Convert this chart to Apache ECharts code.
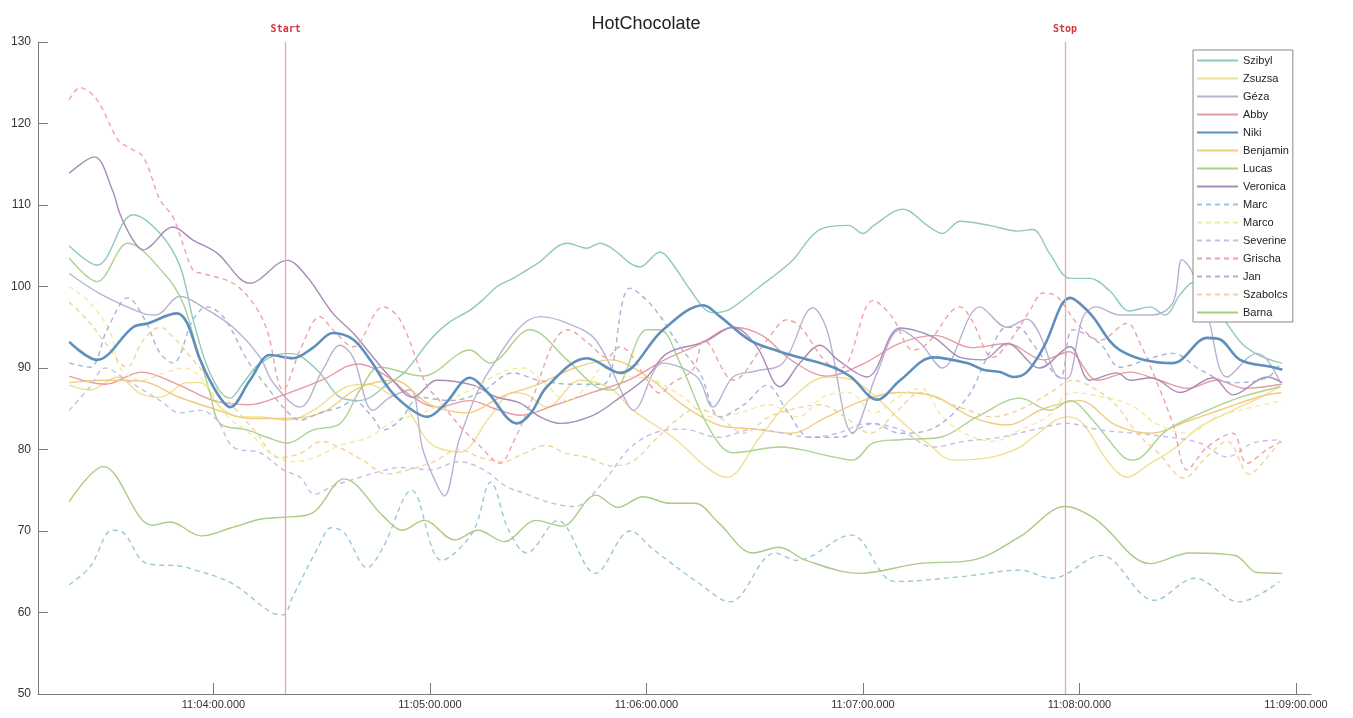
<!DOCTYPE html>
<html><head><meta charset="utf-8">
<script src="https://cdn.jsdelivr.net/npm/echarts@6/dist/echarts.min.js"></script>
<style>html,body{margin:0;padding:0;background:#fff}#c{width:1353px;height:718px}</style>
</head><body><div id="c"></div>
<script>
// time values: seconds after 11:03:00
const baseClock = [11, 3, 0];
const tickSeconds = [60, 120, 180, 240, 300, 360];
const tickLabels = ['11:04:00.000','11:05:00.000','11:06:00.000','11:07:00.000','11:08:00.000','11:09:00.000'];
const yTicks = [50, 60, 70, 80, 90, 100, 110, 120, 130];
const markerNames = ['Start', 'Stop'];
const markerTimes = [80, 296];

const seriesNames = ['Szibyl','Zsuzsa','Géza','Abby','Niki','Benjamin','Lucas','Veronica','Marc','Marco','Severine','Grischa','Jan','Szabolcs','Barna'];

const szibylT = [20,27.7,37.7,45.2,50.7,54.3,58,62,64.6,68,72.9,80.4,84,89.5,95.1,100.6,108.9,113,120,125,131.1,135,138.6,143,149.7,158,163.5,167.1,170,178.2,183.7,186,192.1,196,198.4,203,211.4,220,228.1,236,240,243,251.1,257.8,262,266.9,275,283,287,291.8,297.4,302.9,308.3,313.9,319.5,323.7,327.9,331.5,335,340,345,350,356.2];
const szibylV = [105,102.6,108.8,106.5,102.5,96,90.5,87,86.3,88,90.6,91.8,91.5,89.4,86.4,86,88.2,89.5,93.4,95.5,97.1,98.5,100,101,102.8,105.3,104.7,105.3,104.8,102.4,104.2,103.5,99.6,97.3,96.8,97.2,100,103,107,107.5,106.5,107.5,109.5,107.5,106.5,108,107.5,106.8,107,104,101,101,99.5,97,97.5,96.5,99,100.5,99,96,93,91.5,90.6];

const zsuzsaT = [20,25.8,33.5,39.6,45.2,52.7,56.3,61.8,67.3,72.9,80.4,87.6,97,103,108,113,120,128.3,136.6,143,146.9,152.4,161.6,170,176.3,187.3,197.6,202.3,211.4,220.6,230,237.2,244.7,250.3,257.8,265,276,283.5,287.1,296.5,300.9,307.6,313.2,319.6,325.9,333.4,342.5,350.1,355.7];
const zsuzsaV = [87.9,87.3,88.9,86.9,86.4,88.2,88.2,85.2,84,84,83.6,84.8,87.7,88,87,85.5,80.8,79.7,84,87,86.7,85.2,88.5,87.5,84.8,81.5,77.5,76.6,81.5,86.4,88.9,88.5,86,83.6,80.8,78.7,79.1,80.3,81.5,84,83.2,78.7,76.6,78.3,80,82.8,84.8,86.4,87.7];

const gezaT = [20,29,40.5,44,50.7,57,65.4,72.9,76.5,84,90.3,95.1,98.7,104.2,108.9,114.5,118,122.2,124,128.3,136.6,150.5,158,166,174.6,176.3,184.6,194,198.4,204,210,217.8,226.1,230,237.2,243.9,250.3,256,262,272.4,279.9,285.4,289.1,293.7,296.5,300.9,304.6,311.2,320.4,325.9,328.4,331,335.4,340.9,349.2,352,355.7];
const gezaV = [101.6,99,96.7,96.5,98.8,97.5,95,91.3,88.2,85.2,89.8,92.8,91.3,84.8,86.4,87.3,80,75.4,74.3,81.5,89.8,96.3,95.5,93.4,85.7,84.8,90.6,88.9,85.2,88.9,89.6,90.6,97.4,94.7,82,89.4,94.7,93,90,97.5,95,96,94,89,88.7,96.2,97.5,96.5,96.5,98,103.3,102,96.7,88.9,91.8,91,88.2];

const abbyT = [20,30,40,50,60,70,80,90,100,108,115,122,131,138,145,155,165,175,185,195,204,212,220,230,240,250,260,270,280,290,297,305,314,322,330,338,346,356];
const abbyV = [89,88,89.5,88,86,85.5,86.8,88.5,90.5,89,86.5,85.2,86,85,84.2,85.5,87,88.5,91,93,95,94,91,89,90.5,93,94,92.5,93,91,92,88.5,89.5,88.5,87.5,88.5,87.5,88];

const nikiT = [20,27.7,37.7,42,49.9,52.7,56.3,61,64.6,70.1,75.7,82,87.6,93.1,98.7,103.4,108.9,114.5,119.2,124,131.1,136,144.1,148,152.4,163.5,172.7,184.6,195.7,200.4,208.7,217,222.5,231.7,236.7,243.9,250.3,259.5,268.9,273.3,278,281.6,285.4,290,297.4,302.9,311.2,325.9,335.4,339,344.5,353.7,356.2];
const nikiV = [93.2,91,95,95.5,96.7,95.5,91,86.9,85.2,88.5,91.6,91.2,92.5,94.3,93.5,91,87.3,85,84,85.5,88.8,87,83.2,84.5,87.7,91.2,89.4,94.7,97.7,96.3,93.4,92,91.3,90.1,88.9,86.1,88.5,91.3,90.6,89.8,89.5,88.9,89.5,92.5,98.6,96.7,92.2,90.6,93.7,93.5,91,90.1,89.8];

const benjaminT = [20,30,40,50,60,70,80,90,100,110,120,130,140,150,160,170,180,190,200,210,220,230,240,250,260,270,280,290,300,310,320,330,340,350,356];
const benjaminV = [88.2,88.5,88.4,86.5,85,83.8,83.8,84.5,87.5,88.5,85.5,84.5,86.5,88,90,91,89,85.5,83,82.5,82,84,86,87,86.5,84,83,85,86,83,82,83.5,85,86.5,87];

const lucasT = [20,27.7,36.3,46.5,51.5,55,59,61.8,69.3,74.8,80.4,87.6,95.1,100.6,106.1,118,131.1,136.6,147.7,158,166,170.7,180.1,183.7,189.3,197.6,204,217,231.7,237.2,242.8,250.3,261.4,271.6,283.5,291.8,297.4,302.9,312.1,314.9,324.3,335.4,344.5,355.7];
const lucasV = [103.5,100.6,105.3,101.5,98,93,87,83.2,82.4,81.5,80.8,82.4,83.2,87.3,90.1,89,92.2,90.6,94.7,91,87.7,87.3,94.7,94.7,90.6,82.4,79.6,80.3,79.1,78.7,80.8,81.2,81.5,84,86.3,84.8,86,84,79.1,78.7,82.4,84.8,86.4,87.7];

const veronicaT = [20,27,32,34,37.7,40.5,48.8,54.3,61,70.1,80.4,85.9,93.1,98.7,103,108.9,115.3,121.9,131.9,138,145,150.5,156,165.2,172.7,180.1,185.7,196,204,210.6,217,222.5,228.1,233,241.1,250.3,259.5,266.9,273.3,279.9,289,297.4,302.9,310.4,314,320,327.9,337,342.5,352,356.2];
const veronicaV = [113.9,115.9,111.8,109,105.7,104.5,107.3,105.7,104.1,100.4,103.2,101.2,96.7,94.3,92,88.9,86.4,88.5,87.9,86.5,85.7,84,83.2,84.2,86.4,88.9,91.8,93.2,95,92.6,87.7,90.6,92.8,91,88.9,94.9,93.8,91.3,91,93,90,92.6,88.5,89.4,88.5,88.8,87,88.8,86.7,88.9,88.2];

const marcT = [20,25.8,32,35,41.6,50.5,55,65,76,79.3,82,89,92.6,96.2,102.6,107,114.9,123.2,131.8,136.8,141.8,146.8,155.4,165.8,175.5,182,194.8,203.1,215.6,221.7,236.7,248.9,267.5,283.5,292.4,306,320.7,332,344.2,355.4];
const marcV = [63.4,65.6,70.1,69.8,66,65.7,65.2,63.6,60,59.7,62,68,70.4,69.8,65.5,68,75,66.4,69.8,76,70.1,67.3,71.3,64.8,70,67.7,63.5,61.3,67.3,66.4,69.5,63.8,64.4,65.2,64.2,67,61.5,64.2,61.3,63.8];

const marcoT = [20,25.8,31.5,34,40,47,52,58,64,70,76,82,88,95,103,110,118,125,132,140,146,152,158,163,168,175,182,190,198,206,214,222,229,236,243,250,256,262,268,276,284,291,298,306,314,322,330,338,346,356.2];
const marcoV = [100,98,94.3,90.1,88.5,89.5,90,88,84,82,79.5,78.5,79,80.5,81.5,83.5,84.5,86,87.5,89.5,90,88,86,87.5,90,89,88.5,86.5,84,84.5,85.5,84,86.5,87,84.5,86.5,87.5,84,82,81,82.5,84,87,86.5,85.5,83,82,84,85,86];

const severineT = [20,25.8,30,36,45.2,50.7,56.3,61,65.4,72.9,79.3,84,88,93,100,106,112,120,128,135,141,147,153,160,168,175,182,190,200,210,218,225.3,233,241.1,250,259.5,268,278,288,296.5,305.7,315,325,333.4,340.9,348.1,355.7];
const severineV = [84.8,87.7,90,88.5,86,84.5,84.8,83.6,80.3,79.6,77.5,76.6,74.5,75.5,76.5,77.3,77.8,77.5,78.5,77.5,75.5,74.5,73.5,73,76,80,82,82.5,81.5,82.5,82,81.5,82,83.2,82.5,80.3,81,81.5,82.5,83.2,82.4,82,81.5,80.8,79.1,80.8,81.2];

const grischaT = [20,23,27.7,33.5,36.3,40.5,45.2,48.8,54.3,57,65.4,70.9,74.8,79.3,84,89.5,93.1,98.7,107,111.7,119.2,121.9,128,133.9,139.4,143,148.5,154.1,158,164,169,172.7,176.3,180.1,183.7,187.3,192.9,196,204,213.4,218.9,222.5,230,234,242.8,248,253.9,257.8,266.9,270,276,281,286.3,289.9,293.7,299.3,305.7,313.2,316.8,321.5,326,329.8,335.4,342.5,346.4,352,356.2];
const grischaV = [122.9,124.4,122.9,118,117.1,115.9,110.6,108.5,102,101.6,100.4,98,94.7,87.3,92.2,96.3,94.7,92.6,97.5,95.9,87.7,86.4,83,80.4,78.3,80.8,86.4,93,94.7,93,91.3,92.6,91.3,88.5,86.9,88.2,89.8,93.4,88.5,93.4,95.9,95.1,90.6,90,98.3,96.3,92.2,93,97.5,96,91.3,93.5,97.1,99.2,98.8,95.5,93.4,95.5,93,88.2,83,77.5,80.3,82,78.3,80,81];

const janT = [20,25.8,30.5,36.3,41,45.2,48.8,54.3,58.2,61.8,64.6,69.3,74.8,79.3,84,89.5,95.1,98.7,104,107,111.7,117.2,125.6,134,143,150,160,168,175.4,181.8,189.3,194.8,200.4,207,213.4,218.9,225.3,233.6,242.8,250.3,259,268.9,274.4,279.9,283,287,294.6,298.2,305.7,311.2,320.4,325.9,333.4,342.5,352,355.7];
const janV = [90.6,90.1,94.7,98.6,95.9,91.8,90.6,95.9,97.5,96.7,95,91,87.7,85.2,83.6,84.5,85.2,86,84,82.4,83.6,86.4,86,87,89.4,88.5,88,88,99.8,97.5,92.6,89.4,84,85.5,87.9,84.8,81.5,81.5,83.2,82,82.5,86.4,91.3,95,95,93,88.9,94.7,93,90.1,91.3,91.8,89.8,88.2,88.8,90.6];

const szabolcsT = [20,25,30,36,40.5,45.2,48.8,54.3,60,66,72,78,84,90,96,102,108,114,121,128,134,140,146,152,158,164,170,176,182,188,194,200,207,214,221,228,235,242,249,256,262,268,276,284,292,298,304,310,316,322,329,335,341,347,352,356.2];
const szabolcsV = [98.1,95.9,93.1,90.1,93.4,95,93.8,91,88,85,82,79,79.5,81,80,78.5,77,77.5,78.5,80,79,78.5,79.5,80.5,79.5,79,78,78.5,81,83.5,85,84,82,84,85,85.5,84,82,84.5,87,86,85,84,85,87,88.5,87.5,85.5,82,79.5,76.5,79,81,77,79,81.5];

const barnaT = [20,29.5,43,48,56.6,65,73.5,80,87.4,96.2,107.3,112.3,118.4,126.9,133.3,140.5,149.4,156.6,166,172.1,179,186.5,193.4,200,209.5,216.7,224.2,239.2,255.3,270,283.5,296,304.6,319.6,330.6,343.1,349.2,356.2];
const barnaV = [73.6,77.9,70.7,71.1,69.4,70.4,71.5,71.7,72.2,76.4,71.7,70.1,71.3,68.9,70.1,68.7,71.3,70.6,74.4,72.9,74.2,73.4,73.4,71,67.3,68,66.4,64.8,66,66.4,69.3,73,71.4,66,67.3,67,64.9,64.8];

const seriesTimes = [szibylT,zsuzsaT,gezaT,abbyT,nikiT,benjaminT,lucasT,veronicaT,marcT,marcoT,severineT,grischaT,janT,szabolcsT,barnaT];
const seriesValues = [szibylV,zsuzsaV,gezaV,abbyV,nikiV,benjaminV,lucasV,veronicaV,marcV,marcoV,severineV,grischaV,janV,szabolcsV,barnaV];

// styles
const styles = [
  {c:'#8fc9bc', d:false, w:1.4},
  {c:'#efe08e', d:false, w:1.4},
  {c:'#b7b2d4', d:false, w:1.4},
  {c:'#e79aa3', d:false, w:1.4},
  {c:'#5e8fbd', d:false, w:2.6},
  {c:'#f1cb7f', d:false, w:1.4},
  {c:'#acd28e', d:false, w:1.4},
  {c:'#a98bb9', d:false, w:1.4},
  {c:'#9cc6d9', d:true, w:1.4},
  {c:'#f2eb9e', d:true, w:1.4},
  {c:'#c5bfe6', d:true, w:1.4},
  {c:'#f0a0a6', d:true, w:1.4},
  {c:'#a3b5d5', d:true, w:1.4},
  {c:'#f3d398', d:true, w:1.4},
  {c:'#a9cb84', d:false, w:1.4}
];

function pad(n){return (n<10?'0':'')+n;}
function clockLabel(sec){
  const total = baseClock[0]*3600 + baseClock[1]*60 + baseClock[2] + sec;
  const h = Math.floor(total/3600), m = Math.floor((total%3600)/60), s = Math.round(total%60);
  return pad(h)+':'+pad(m)+':'+pad(s)+'.000';
}

const series = seriesNames.map((name, i) => {
  const st = styles[i];
  const s = {
    name: name,
    type: 'line',
    data: seriesTimes[i].map((t, k) => [t, seriesValues[i][k]]),
    showSymbol: false,
    symbol: 'none',
    smooth: 0.35,
    animation: false,
    lineStyle: {color: st.c, width: st.w, type: st.d ? [5, 4] : 'solid'},
    itemStyle: {color: st.c},
    z: name === 'Niki' ? 3 : 2
  };
  if (i === 0) {
    s.markLine = {
      silent: true,
      symbol: ['none', 'none'],
      animation: false,
      lineStyle: {color: '#f3a2aa', width: 1.3, type: 'solid'},
      label: {
        show: true, position: 'end', distance: 8,
        color: '#d6343a', fontFamily: 'DejaVu Sans Mono', fontWeight: 'bold', fontSize: 10,
        formatter: p => p.name
      },
      data: markerNames.map((n, k) => ({name: n, xAxis: markerTimes[k]}))
    };
  }
  return s;
});

const chart = echarts.init(document.getElementById('c'), null, {renderer: 'canvas'});
chart.setOption({
  backgroundColor: '#fff',
  animation: false,
  textStyle: {fontFamily: 'Liberation Sans, Arial, sans-serif'},
  title: {
    text: 'HotChocolate', left: 641, top: 10, textAlign: 'center',
    textStyle: {fontSize: 18, fontWeight: 'normal', color: '#222', fontFamily: 'Liberation Sans, Arial, sans-serif'}
  },
  grid: {left: 38, right: 42, top: 42, bottom: 24, containLabel: false},
  legend: {
    orient: 'vertical', left: 1193, top: 50,
    data: seriesNames,
    itemWidth: 41, itemHeight: 10, itemGap: 7,
    padding: [5, 4, 4, 3],
    borderColor: '#8a8a8a', borderWidth: 1, backgroundColor: '#fff',
    itemStyle: {opacity: 0},
    textStyle: {fontSize: 11, color: '#222', fontFamily: 'Liberation Sans, Arial, sans-serif'},
    selectedMode: false
  },
  xAxis: {
    type: 'value', min: 11.36, max: 364.16,
    splitLine: {show: false},
    axisLine: {show: true, lineStyle: {color: '#7a7a7a'}},
    axisTick: {show: true, inside: true, length: 11, customValues: tickSeconds, lineStyle: {color: '#7a7a7a'}},
    axisLabel: {
      show: true, customValues: tickSeconds, margin: 5, fontSize: 11, color: '#333',
      formatter: v => { const k = tickSeconds.indexOf(v); return k >= 0 ? tickLabels[k] : clockLabel(v); }
    }
  },
  yAxis: {
    type: 'value', min: yTicks[0], max: yTicks[yTicks.length-1], interval: 10,
    splitLine: {show: false},
    axisLine: {show: true, lineStyle: {color: '#7a7a7a'}},
    axisTick: {show: true, inside: true, length: 10, lineStyle: {color: '#7a7a7a'}},
    axisLabel: {margin: 7, fontSize: 12, color: '#333'}
  },
  series: series
});
</script>
</body></html>
